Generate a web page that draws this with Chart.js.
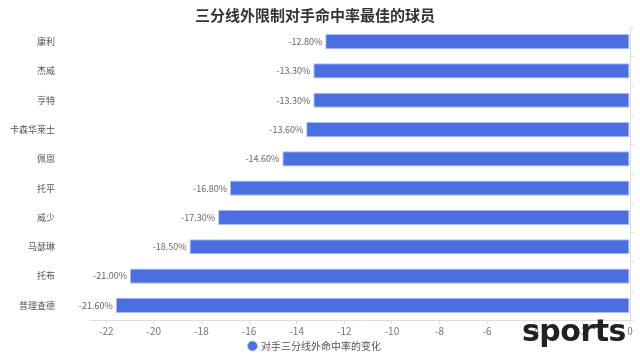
<!DOCTYPE html>
<html><head><meta charset="utf-8">
<script src="https://cdn.jsdelivr.net/npm/chart.js@4/dist/chart.umd.min.js"></script>
<style>
html,body{margin:0;padding:0;background:#fff;overflow:hidden;}
#wrap{position:relative;width:640px;height:361px;}
canvas{display:block;}
#mark{position:absolute;left:522px;top:313px;line-height:36px;font-family:"DejaVu Sans",sans-serif;font-weight:bold;font-size:30px;color:#222;letter-spacing:-0.5px;}
</style></head>
<body><div id="wrap"><canvas id="c" width="640" height="361"></canvas><div id="mark">sports</div></div>
<script>
const players = ["康利","杰威","亨特","卡森华莱士","佩恩","托平","威少","马瑟琳","托布","普理查德"];
const changes = [-12.8,-13.3,-13.3,-13.6,-14.6,-16.8,-17.3,-18.5,-21.0,-21.6];
const xTickValues = [-22,-20,-18,-16,-14,-12,-10,-8,-6,-4,-2,0];
const titleText = "三分线外限制对手命中率最佳的球员";
const seriesName = "对手三分线外命中率的变化";
const FONT = '"Noto Sans CJK SC", "Noto Sans", sans-serif';

const labelPlugin = {
  id:'valLabels',
  afterDatasetsDraw(chart){
    const ctx = chart.ctx;
    const meta = chart.getDatasetMeta(0);
    ctx.save();
    ctx.font = '9px ' + FONT;
    ctx.fillStyle = '#666';
    ctx.textAlign = 'right';
    ctx.textBaseline = 'middle';
    meta.data.forEach((bar,i)=>{
      ctx.fillText(changes[i].toFixed(2)+'%', bar.x - 3, bar.y);
    });
    const a = chart.chartArea;
    ctx.strokeStyle = '#ddd';
    ctx.lineWidth = 1;
    ctx.beginPath();
    ctx.moveTo(a.right+0.5, a.top); ctx.lineTo(a.right+0.5, a.bottom);
    const step = (a.bottom - a.top)/players.length;
    for(let i=0;i<=players.length;i++){
      const yy = Math.round(a.top + i*step)+0.5;
      ctx.moveTo(a.right, yy); ctx.lineTo(a.right+4, yy);
    }
    ctx.stroke();
    ctx.restore();
  }
};

new Chart(document.getElementById('c'),{
  type:'bar',
  data:{labels:players,datasets:[{label:seriesName,data:changes,backgroundColor:'#4a6fe0',borderColor:'#a9bdf5',borderWidth:1,borderSkipped:false,barPercentage:0.52,categoryPercentage:1}]},
  options:{
    indexAxis:'y',responsive:false,animation:false,
    layout:{padding:{left:0,right:10,top:0,bottom:0}},
    plugins:{
      title:{display:true,text:titleText,color:'#333',font:{family:FONT,size:15,weight:'bold'},padding:{top:6,bottom:3}},
      legend:{position:'bottom',labels:{usePointStyle:true,pointStyle:'circle',boxWidth:7,boxHeight:7,color:'#555',font:{family:FONT,size:10},padding:3}},
      tooltip:{enabled:false}
    },
    scales:{
      x:{min:-22.68,max:0,
        afterBuildTicks:s=>{s.ticks = xTickValues.map(v=>({value:v}));},
        grid:{drawOnChartArea:false,tickLength:4,color:'#ddd'},
        border:{color:'#ddd'},
        ticks:{color:'#777',font:{family:FONT,size:10},padding:1,maxRotation:0,autoSkip:false}},
      y:{grid:{display:true,drawOnChartArea:false,tickLength:32,color:'rgba(0,0,0,0)'},border:{display:false},
        afterFit:s=>{s.width=90;},
        ticks:{color:'#555',font:{family:FONT,size:9},padding:3}}
    }
  },
  plugins:[labelPlugin]
});
</script></body></html>
